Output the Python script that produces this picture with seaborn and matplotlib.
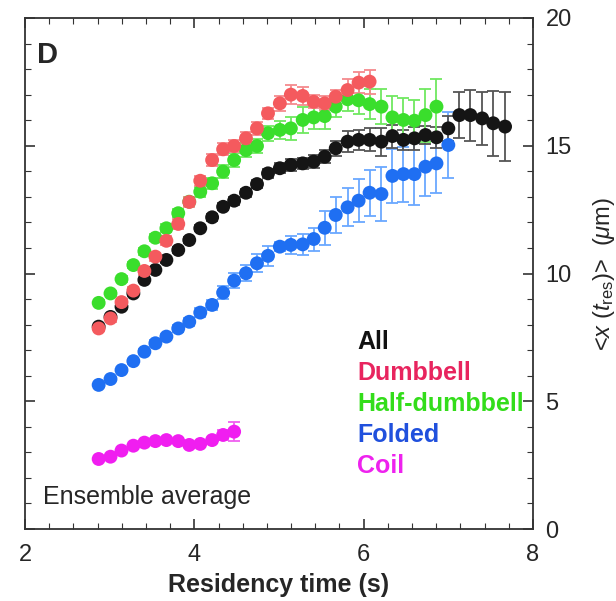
import numpy as np
import pandas as pd
import matplotlib
matplotlib.use("Agg")
import matplotlib.pyplot as plt
from matplotlib.ticker import MultipleLocator, FixedLocator
import seaborn as sns

# ---------------- data ----------------
t_all = [2.87, 3.01, 3.14, 3.28, 3.41, 3.54, 3.67, 3.81, 3.94, 4.07, 4.21, 4.34, 4.47,
         4.61, 4.74, 4.87, 5.01, 5.14, 5.28, 5.41, 5.54, 5.67, 5.81, 5.94, 6.07, 6.21,
         6.34, 6.47, 6.60, 6.73, 6.86, 7.00, 7.13, 7.26, 7.40, 7.53, 7.67]
y_all = [7.92, 8.30, 8.70, 9.22, 9.75, 10.14, 10.53, 10.92, 11.31, 11.77, 12.20, 12.61, 12.85,
         13.16, 13.50, 13.92, 14.12, 14.25, 14.31, 14.38, 14.57, 14.90, 15.16, 15.23, 15.23, 15.16,
         15.38, 15.23, 15.29, 15.42, 15.33, 15.68, 16.20, 16.20, 16.07, 15.88, 15.75]
e_all = [0.08, 0.08, 0.08, 0.09, 0.09, 0.10, 0.10, 0.11, 0.12, 0.12, 0.13, 0.14, 0.15,
         0.16, 0.17, 0.18, 0.20, 0.22, 0.22, 0.24, 0.25, 0.30, 0.42, 0.40, 0.45, 0.55,
         0.45, 0.40, 0.45, 0.36, 0.40, 0.50, 0.90, 1.00, 1.04, 1.27, 1.34]

t_dumb = t_all[:25]
y_dumb = [7.85, 8.24, 8.88, 9.33, 10.10, 10.66, 11.28, 11.94, 12.80, 13.63, 14.44, 14.86, 14.99,
          15.29, 15.68, 16.27, 16.66, 17.00, 16.95, 16.72, 16.66, 16.92, 17.18, 17.47, 17.51]
e_dumb = [0.10, 0.12, 0.13, 0.14, 0.15, 0.16, 0.17, 0.18, 0.19, 0.20, 0.22, 0.24, 0.25,
          0.26, 0.25, 0.22, 0.30, 0.36, 0.36, 0.26, 0.28, 0.28, 0.42, 0.42, 0.47]

t_half = t_all[:31]
y_half = [8.85, 9.22, 9.78, 10.33, 10.87, 11.40, 11.77, 12.36, 12.81, 13.20, 13.53, 13.99, 14.44,
          14.83, 14.99, 15.49, 15.62, 15.68, 16.01, 16.11, 16.16, 16.53, 16.82, 16.78, 16.63, 16.53,
          16.11, 16.01, 15.98, 16.20, 16.53]
e_half = [0.10, 0.10, 0.11, 0.12, 0.13, 0.14, 0.15, 0.16, 0.18, 0.20, 0.22, 0.24, 0.26,
          0.28, 0.28, 0.30, 0.35, 0.45, 0.52, 0.45, 0.50, 0.42, 0.45, 0.55, 0.58, 0.68,
          0.85, 0.85, 0.83, 1.04, 1.10]

t_fold = t_all[:32]
y_fold = [5.64, 5.87, 6.22, 6.57, 6.94, 7.27, 7.53, 7.85, 8.11, 8.47, 8.77, 9.25, 9.72,
          10.01, 10.40, 10.69, 11.05, 11.12, 11.14, 11.35, 11.79, 12.29, 12.59, 12.85, 13.16, 13.11,
          13.82, 13.89, 13.89, 14.18, 14.31, 15.03]
e_fold = [0.08, 0.08, 0.09, 0.10, 0.10, 0.11, 0.12, 0.13, 0.15, 0.17, 0.20, 0.25, 0.30,
          0.32, 0.35, 0.40, 0.17, 0.35, 0.40, 0.45, 0.67, 0.72, 0.75, 0.85, 0.90, 1.06,
          1.06, 1.08, 1.20, 1.16, 1.14, 1.29]

t_coil = t_all[:13]
y_coil = [2.74, 2.83, 3.07, 3.26, 3.38, 3.44, 3.48, 3.44, 3.29, 3.33, 3.48, 3.68, 3.81]
e_coil = [0.05, 0.05, 0.05, 0.06, 0.06, 0.06, 0.07, 0.07, 0.08, 0.08, 0.10, 0.20, 0.36]

labels = ["All", "Dumbbell", "Half-dumbbell", "Folded", "Coil"]
x_ticks = [2, 4, 6, 8]
y_ticks = [0, 5, 10, 15, 20]

# ---------------- style ----------------
sns.set_theme(style="white")
plt.rcParams["font.family"] = ["Liberation Sans", "DejaVu Sans"]
plt.rcParams["mathtext.fontset"] = "custom"
plt.rcParams["mathtext.rm"] = "Liberation Sans"
plt.rcParams["mathtext.it"] = "Liberation Sans:italic"

point_colors = {"All": "#151515", "Dumbbell": "#f45a5e", "Half-dumbbell": "#3ade2c",
                "Folded": "#1f6ff2", "Coil": "#f01ef0"}
err_colors = {"All": "#555555", "Dumbbell": "#f48a8e", "Half-dumbbell": "#6fe860",
              "Folded": "#6aa8ff", "Coil": "#f060f0"}
text_colors = {"All": "#111111", "Dumbbell": "#e8245e", "Half-dumbbell": "#33dd1a",
               "Folded": "#2050dd", "Coil": "#ee22ee"}

series = {"All": (t_all, y_all, e_all), "Dumbbell": (t_dumb, y_dumb, e_dumb),
          "Half-dumbbell": (t_half, y_half, e_half), "Folded": (t_fold, y_fold, e_fold),
          "Coil": (t_coil, y_coil, e_coil)}

frames = []
for name, (t, y, e) in series.items():
    frames.append(pd.DataFrame({"t": t, "y": y, "err": e, "group": name}))
df = pd.concat(frames, ignore_index=True)

fig = plt.figure(figsize=(6.16, 6.01), dpi=100)
ax = fig.add_axes([25 / 616, 1 - 529 / 601, (533 - 25) / 616, (529 - 18) / 601])

draw_order = ["Coil", "Folded", "All", "Half-dumbbell", "Dumbbell"]
for name in draw_order:
    sub = df[df["group"] == name]
    ax.errorbar(sub["t"], sub["y"], yerr=sub["err"], fmt="none",
                ecolor=err_colors[name], elinewidth=1.3, capsize=4, capthick=1.3, zorder=2)
    sns.scatterplot(data=sub, x="t", y="y", color=point_colors[name], s=100,
                    edgecolor="none", linewidth=0, ax=ax, zorder=3, legend=False)

ax.set_xlim(2, 8)
ax.set_ylim(0, 20)
ax.set_xlabel("Residency time (s)", fontsize=18, fontweight="bold", labelpad=5)
ax.set_ylabel(r"<$x$ ($t_{\mathrm{res}}$)>  ($\mu$m)", fontsize=17, labelpad=14,
              rotation=90)
ax.yaxis.set_label_position("right")
ax.yaxis.tick_right()

ax.xaxis.set_major_locator(FixedLocator(x_ticks))
ax.xaxis.set_minor_locator(MultipleLocator(2 / 7))
ax.yaxis.set_major_locator(FixedLocator(y_ticks))
ax.yaxis.set_minor_locator(MultipleLocator(1))
ax.tick_params(axis="both", which="both", direction="in", top=True, bottom=True,
               left=True, right=True, color="#333333")
ax.tick_params(axis="both", which="major", length=7, width=1.2, labelsize=17)
ax.tick_params(axis="both", which="minor", length=4, width=0.8)
ax.tick_params(axis="x", which="major", pad=11)
ax.tick_params(axis="y", which="major", pad=9, labelleft=False, labelright=True)

for sp in ax.spines.values():
    sp.set_color("#333333")
    sp.set_linewidth(1.3)

ax.text(0.023, 0.955, "D", transform=ax.transAxes, fontsize=21, fontweight="bold",
        ha="left", va="top")
ax.text(0.035, 0.04, "Ensemble average", transform=ax.transAxes, fontsize=18,
        ha="left", va="bottom")

leg_y = [342, 373, 404, 435, 466]
for name, yy in zip(labels, leg_y):
    ax.text(357 / 616, 1 - yy / 601, name, transform=fig.transFigure, fontsize=18,
            fontweight="bold", color=text_colors[name], ha="left", va="center")

fig.savefig("out.png", dpi=100)
